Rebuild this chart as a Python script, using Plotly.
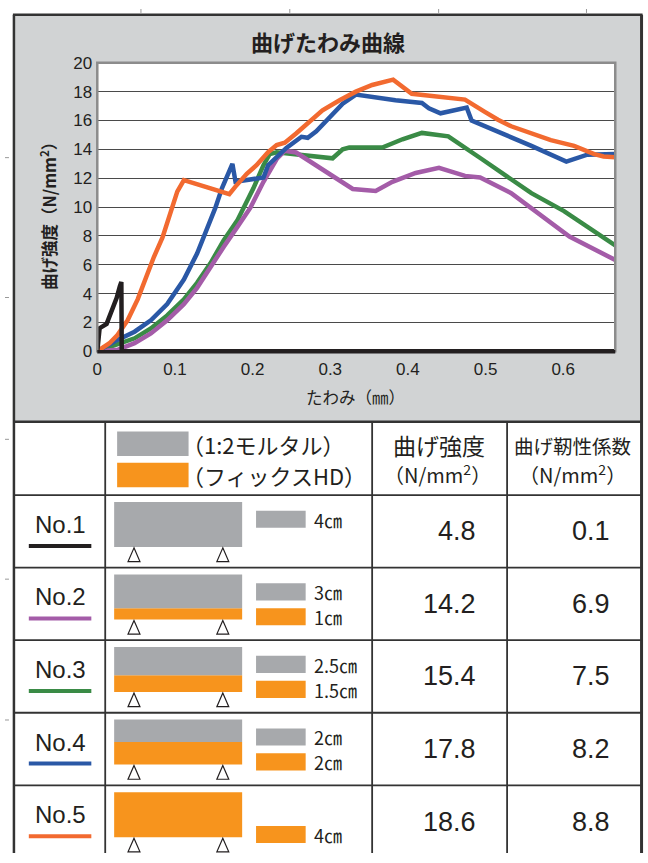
import plotly.graph_objects as go

W, H = 648, 863
def X(px): return px / W
def Y(py): return 1 - py / H

# ---------------- chart data ----------------
x_no1 = [0, 0.003, 0.012, 0.019, 0.025, 0.029, 0.031, 0.0315, 0.667]
y_no1 = [0, 1.6, 1.9, 2.8, 3.7, 4.5, 4.8, 0, 0]

x_no2 = [0, 0.026, 0.048, 0.069, 0.09, 0.1115, 0.1285, 0.1457, 0.1627, 0.18, 0.197, 0.214, 0.231, 0.2415,
         0.256, 0.295, 0.329, 0.3585, 0.38, 0.41, 0.44, 0.4735, 0.493, 0.533, 0.572, 0.608, 0.667]
y_no2 = [0, 0.1, 0.56, 1.24, 2.15, 3.27, 4.4, 5.88, 7.23, 8.59, 9.94, 11.75, 13.33, 13.9,
         13.78, 12.43, 11.25, 11.12, 11.75, 12.36, 12.72, 12.16, 12.05, 10.96, 9.38, 7.95, 6.33]

x_no3 = [0, 0.026, 0.048, 0.069, 0.09, 0.1115, 0.1285, 0.1457, 0.1627, 0.18, 0.1925, 0.201, 0.214, 0.222,
         0.231, 0.252, 0.303, 0.316, 0.3245, 0.367, 0.393, 0.418, 0.452, 0.495, 0.559, 0.601, 0.667]
y_no3 = [0, 0.45, 0.9, 1.58, 2.49, 3.6, 4.75, 6.1, 7.68, 9.04, 10.3, 11.3, 12.9, 13.67,
         13.8, 13.67, 13.38, 14.0, 14.12, 14.12, 14.7, 15.14, 14.9, 13.33, 10.96, 9.72, 7.34]

x_no4 = [0, 0.026, 0.048, 0.069, 0.09, 0.1115, 0.1285, 0.141, 0.152, 0.1605, 0.169, 0.174, 0.178, 0.1925,
         0.214, 0.22, 0.231, 0.2435, 0.263, 0.271, 0.282, 0.299, 0.316, 0.333, 0.3585, 0.384, 0.418,
         0.427, 0.442, 0.4757, 0.482, 0.516, 0.559, 0.604, 0.631, 0.667]
y_no4 = [0, 0.79, 1.36, 2.15, 3.27, 4.97, 6.78, 8.36, 9.94, 11.3, 12.4, 13.0, 11.75, 11.86,
         12.05, 12.9, 13.45, 14.1, 14.87, 14.8, 15.25, 16.16, 17.17, 17.8, 17.58, 17.4, 17.22,
         16.85, 16.5, 16.9, 16.0, 15.25, 14.24, 13.15, 13.63, 13.67]

x_no5 = [0, 0.0157, 0.026, 0.039, 0.052, 0.0626, 0.073, 0.084, 0.0945, 0.103, 0.1115, 0.17, 0.1776,
         0.1925, 0.205, 0.22, 0.231, 0.2415, 0.256, 0.273, 0.29, 0.312, 0.333, 0.354, 0.381, 0.405,
         0.444, 0.4735, 0.499, 0.516, 0.533, 0.559, 0.584, 0.614, 0.64, 0.652, 0.667]
y_no5 = [0, 0.56, 1.13, 2.15, 3.6, 5.2, 6.55, 7.9, 9.7, 11.07, 11.86, 10.9, 11.4,
         12.3, 12.9, 13.8, 14.3, 14.46, 15.1, 15.9, 16.7, 17.4, 18.0, 18.46, 18.83, 17.85,
         17.63, 17.45, 16.6, 16.05, 15.6, 15.1, 14.64, 14.24, 13.67, 13.5, 13.45]

x_ticks = [0, 0.1, 0.2, 0.3, 0.4, 0.5, 0.6]
x_tick_labels = ["0", "0.1", "0.2", "0.3", "0.4", "0.5", "0.6"]
y_ticks = [0, 2, 4, 6, 8, 10, 12, 14, 16, 18, 20]

# ---------------- table data ----------------
row_labels = ["No.1", "No.2", "No.3", "No.4", "No.5"]
mortar_cm = [4, 3, 2.5, 2, 0]
fix_cm = [0, 1, 1.5, 2, 4]
strength = [4.8, 14.2, 15.4, 17.8, 18.6]
toughness = [0.1, 6.9, 7.5, 8.2, 8.8]

series_colors = ["#231f20", "#a45ca8", "#3a8b46", "#2a58a6", "#f26a30"]
GRAY = "#a7a9ac"
ORANGE = "#f7941d"
TXT = "#231f20"
JP = "Noto Sans CJK JP"
LAT = "Liberation Sans, Arial"

fig = go.Figure()

curves = [(x_no3, y_no3, 2), (x_no2, y_no2, 1), (x_no4, y_no4, 3), (x_no5, y_no5, 4), (x_no1, y_no1, 0)]
for xs, ys, ci in curves:
    fig.add_trace(go.Scatter(x=xs, y=ys, mode="lines",
                             line=dict(color=series_colors[ci], width=4.5),
                             showlegend=False, hoverinfo="skip"))

LEFT, RIGHT = 9, 641.5
shapes = []
# gray chart panel and white plot area
shapes.append(dict(type="rect", xref="paper", yref="paper", x0=X(LEFT), x1=X(RIGHT), y0=Y(422), y1=Y(6),
                   fillcolor="#d1d3d4", line=dict(width=0), layer="below"))
shapes.append(dict(type="rect", xref="paper", yref="paper", x0=X(93), x1=X(615), y0=Y(350), y1=Y(55),
                   fillcolor="white", line=dict(width=0), layer="below"))
# plot border
shapes.append(dict(type="rect", xref="paper", yref="paper", x0=X(93), x1=X(615), y0=Y(350), y1=Y(55),
                   line=dict(color="#8c8c8c", width=2.5), layer="above"))
shapes.append(dict(type="line", xref="paper", yref="paper", x0=X(93), x1=X(615), y0=Y(350.5), y1=Y(350.5),
                   line=dict(color="#231f20", width=3.5), layer="above"))

LINE = "#333333"
# outer frame
shapes.append(dict(type="line", xref="paper", yref="paper", x0=X(LEFT - 1), x1=X(RIGHT + 1), y0=Y(6), y1=Y(6),
                   line=dict(color=LINE, width=2.5)))
shapes.append(dict(type="line", xref="paper", yref="paper", x0=X(LEFT), x1=X(LEFT), y0=Y(6), y1=0,
                   line=dict(color=LINE, width=2.5)))
shapes.append(dict(type="line", xref="paper", yref="paper", x0=X(RIGHT), x1=X(RIGHT), y0=Y(6), y1=0,
                   line=dict(color=LINE, width=3)))
shapes.append(dict(type="line", xref="paper", yref="paper", x0=X(LEFT), x1=X(RIGHT), y0=Y(422), y1=Y(422),
                   line=dict(color=LINE, width=2.5)))
# trim marks
for tx in [137, 287, 437, 586]:
    shapes.append(dict(type="line", xref="paper", yref="paper", x0=X(tx), x1=X(tx), y0=Y(0), y1=Y(4),
                       line=dict(color="#999", width=1)))
for ty in [152, 295, 440, 583, 727]:
    shapes.append(dict(type="line", xref="paper", yref="paper", x0=X(0), x1=X(4), y0=Y(ty), y1=Y(ty),
                       line=dict(color="#999", width=1)))

# table grid
col_x = [101, 370, 506]
row_top = 497
row_h = 74.2
for cx in col_x:
    shapes.append(dict(type="line", xref="paper", yref="paper", x0=X(cx), x1=X(cx), y0=Y(422), y1=0,
                       line=dict(color=LINE, width=1.8)))
for i in range(len(row_labels)):
    yy = row_top + i * row_h
    shapes.append(dict(type="line", xref="paper", yref="paper", x0=X(LEFT), x1=X(RIGHT), y0=Y(yy), y1=Y(yy),
                       line=dict(color=LINE, width=1.8)))

# header legend rects
shapes.append(dict(type="rect", xref="paper", yref="paper", x0=X(113), x1=X(185), y0=Y(457), y1=Y(432),
                   fillcolor=GRAY, line=dict(width=0)))
shapes.append(dict(type="rect", xref="paper", yref="paper", x0=X(113), x1=X(185), y0=Y(489), y1=Y(464),
                   fillcolor=ORANGE, line=dict(width=0)))

annotations = []
def txt(x, y, s, size, font=JP, anchor="center", color=TXT, angle=0):
    annotations.append(dict(x=X(x), y=Y(y), xref="paper", yref="paper", text=s, showarrow=False,
                            xanchor=anchor, yanchor="middle", textangle=angle,
                            font=dict(family=font, size=size, color=color)))

# chart texts
txt(326, 33, "<b>曲げたわみ曲線</b>", 22)
txt(44, 208, "<b>曲げ強度（N/mm<sup>2</sup>）</b>", 16.5, angle=-90)
txt(353, 397, "たわみ（㎜）", 16.5)

# header texts
txt(176, 445, "（1:2モルタル）", 22, anchor="left")
txt(176, 476, "（フィックスHD）", 22, anchor="left")
txt(437, 446, "曲げ強度", 23)
txt(436, 475, "（N/mm<sup>2</sup>）", 20)
txt(572, 446, "曲げ靭性係数", 19.5)
txt(572, 475, "（N/mm<sup>2</sup>）", 20)

PX_PER_CM = 11.5
for i, lab in enumerate(row_labels):
    top = row_top + i * row_h
    # label + colored line
    txt(56, top + 30, lab, 24, font=LAT)
    shapes.append(dict(type="line", xref="paper", yref="paper", x0=X(24), x1=X(87),
                       y0=Y(top + 52), y1=Y(top + 52),
                       line=dict(color=series_colors[i], width=4)))
    # beam diagram
    b_bot = top + 53
    f_top = b_bot - fix_cm[i] * PX_PER_CM
    m_top = f_top - mortar_cm[i] * PX_PER_CM
    if fix_cm[i] > 0:
        shapes.append(dict(type="rect", xref="paper", yref="paper", x0=X(110), x1=X(239),
                           y0=Y(b_bot), y1=Y(f_top), fillcolor=ORANGE, line=dict(width=0)))
    if mortar_cm[i] > 0:
        shapes.append(dict(type="rect", xref="paper", yref="paper", x0=X(110), x1=X(239),
                           y0=Y(f_top), y1=Y(m_top), fillcolor=GRAY, line=dict(width=0)))
    for cx in [130, 219.5]:
        path = "M {:.5f},{:.5f} L {:.5f},{:.5f} L {:.5f},{:.5f} Z".format(
            X(cx), Y(b_bot + 1), X(cx - 6), Y(b_bot + 15), X(cx + 6), Y(b_bot + 15))
        shapes.append(dict(type="path", xref="paper", yref="paper", path=path,
                           fillcolor="white", line=dict(color=TXT, width=1.2)))
    # small legend
    if mortar_cm[i] > 0:
        shapes.append(dict(type="rect", xref="paper", yref="paper", x0=X(253), x1=X(303),
                           y0=Y(top + 33.5), y1=Y(top + 16), fillcolor=GRAY, line=dict(width=0)))
        txt(309, top + 25, "{:g}㎝".format(mortar_cm[i]), 18, anchor="left")
    if fix_cm[i] > 0:
        shapes.append(dict(type="rect", xref="paper", yref="paper", x0=X(253), x1=X(303),
                           y0=Y(top + 59), y1=Y(top + 41.5), fillcolor=ORANGE, line=dict(width=0)))
        txt(309, top + 50.5, "{:g}㎝".format(fix_cm[i]), 18, anchor="left")
    # values
    txt(477, top + 37, "{:.1f}".format(strength[i]), 27, font=LAT, anchor="right")
    txt(612, top + 37, "{:.1f}".format(toughness[i]), 27, font=LAT, anchor="right")

fig.update_layout(
    width=W, height=H,
    margin=dict(l=0, r=0, t=0, b=0),
    paper_bgcolor="white", plot_bgcolor="white",
    xaxis=dict(domain=[X(93), X(615)], range=[0, 0.667], tickvals=x_ticks, ticktext=x_tick_labels,
               showgrid=False, zeroline=False, showline=False, ticks="",
               tickfont=dict(family=LAT, size=17, color=TXT), ticklabelstandoff=6, fixedrange=True),
    yaxis=dict(domain=[Y(350), Y(55)], range=[0, 20], tickvals=y_ticks,
               showgrid=True, gridcolor="#4a4a4a", gridwidth=1, zeroline=False, showline=False,
               ticks="", tickfont=dict(family=LAT, size=17, color=TXT), ticklabelstandoff=4,
               fixedrange=True),
    shapes=shapes, annotations=annotations,
)

fig.write_html(
    "out.html",
    config={"displayModeBar": False, "responsive": False},
    post_script=(
        "document.documentElement.style.margin='0';document.documentElement.style.padding='0';"
        "document.documentElement.style.overflow='hidden';"
        "document.body.style.margin='0';document.body.style.padding='0';"
        "document.body.style.overflow='hidden';"
        "var gd=document.getElementById('{plot_id}');gd.style.position='absolute';"
        "gd.style.left='0px';gd.style.top='0px';"
    ),
)
